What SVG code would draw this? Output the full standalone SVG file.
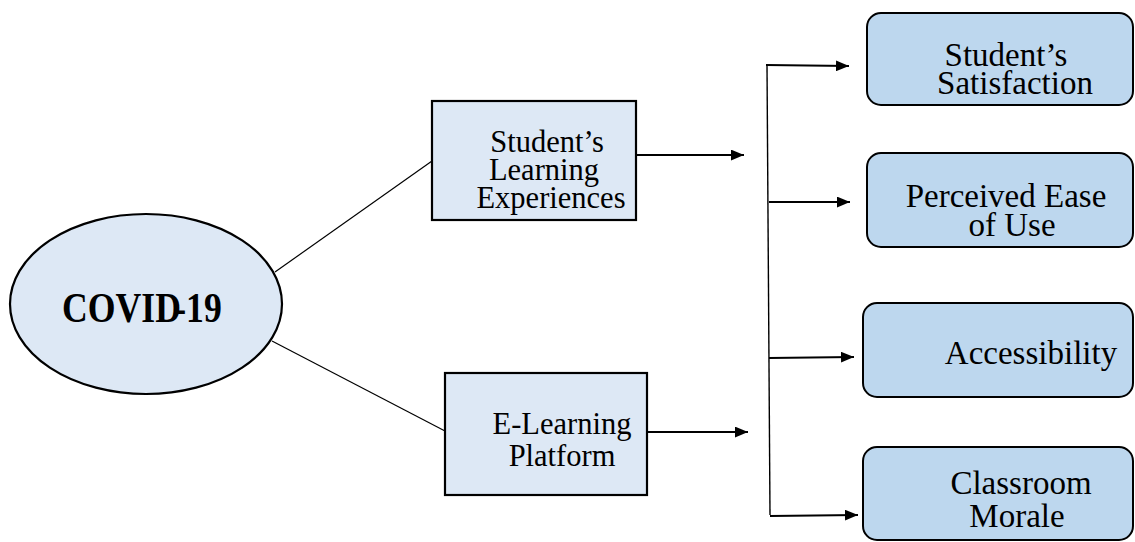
<svg xmlns="http://www.w3.org/2000/svg" width="1135" height="542" viewBox="0 0 1135 542">
  <style>
    .lbl { font-family: "Liberation Serif", "Times New Roman", serif; fill: #000; text-anchor: middle; }
    .left { font-size: 30.5px; }
    .right { font-size: 33px; }
    .src { fill: #dde8f5; stroke: #000; stroke-width: 2.2; }
    .out { fill: #bdd7ee; stroke: #000; stroke-width: 2; }
    .wire { fill: none; stroke: #000; stroke-width: 1.2; }
    .arr { fill: none; stroke: #000; stroke-width: 2; marker-end: url(#head); }
  </style>
  <defs>
    <marker id="head" viewBox="0 0 12 10" refX="12" refY="5" markerUnits="userSpaceOnUse" markerWidth="13" markerHeight="11" orient="auto">
      <path d="M0,0 L12,5 L0,10 Z" fill="#000"/>
    </marker>
  </defs>

  <rect width="1135" height="542" fill="#fff"/>

  <!-- connectors -->
  <g id="connectors">
    <line class="wire" x1="275" y1="272" x2="432" y2="161"/>
    <line class="wire" x1="272" y1="341" x2="445" y2="431"/>
    <line class="arr" x1="636" y1="155" x2="744" y2="155"/>
    <line class="arr" x1="647" y1="432" x2="748" y2="432"/>
    <line class="wire" x1="767" y1="65" x2="770" y2="515" style="stroke-width:1.4"/>
    <line class="arr" x1="766" y1="65" x2="849" y2="66"/>
    <line class="arr" x1="769" y1="202" x2="850" y2="202"/>
    <line class="arr" x1="769" y1="358" x2="854" y2="357"/>
    <line class="arr" x1="770" y1="516" x2="858" y2="515"/>
  </g>

  <!-- cause -->
  <g id="covid">
    <ellipse class="src" cx="146" cy="304" rx="136" ry="90"/>
    <text class="lbl" transform="translate(62,322) scale(0.85,1)" style="font-size:42px;font-weight:bold;text-anchor:start">COVID<tspan dx="-8">-19</tspan></text>
  </g>

  <!-- mediators -->
  <g id="learning-experiences">
    <rect class="src" x="432" y="101" width="204" height="119"/>
    <text class="lbl left" x="547" y="152">Student’s</text>
    <text class="lbl left" x="544" y="180">Learning</text>
    <text class="lbl left" x="551" y="208">Experiences</text>
  </g>

  <g id="elearning-platform">
    <rect class="src" x="445" y="373" width="202" height="122"/>
    <text class="lbl left" x="562" y="434">E-Learning</text>
    <text class="lbl left" x="562" y="466">Platform</text>
  </g>

  <!-- outcomes -->
  <g id="satisfaction">
    <rect class="out" x="867" y="13" width="266" height="92" rx="14"/>
    <text class="lbl right" x="1006" y="66">Student’s</text>
    <text class="lbl right" x="1015" y="94">Satisfaction</text>
  </g>

  <g id="ease-of-use">
    <rect class="out" x="867" y="153" width="266" height="94" rx="14"/>
    <text class="lbl right" x="1006" y="207">Perceived Ease</text>
    <text class="lbl right" x="1012" y="236">of Use</text>
  </g>

  <g id="accessibility">
    <rect class="out" x="863" y="303" width="270" height="94" rx="14"/>
    <text class="lbl right" x="1031" y="364">Accessibility</text>
  </g>

  <g id="classroom-morale">
    <rect class="out" x="863" y="447" width="270" height="93" rx="14"/>
    <text class="lbl right" x="1021" y="494">Classroom</text>
    <text class="lbl right" x="1017" y="527">Morale</text>
  </g>
</svg>
